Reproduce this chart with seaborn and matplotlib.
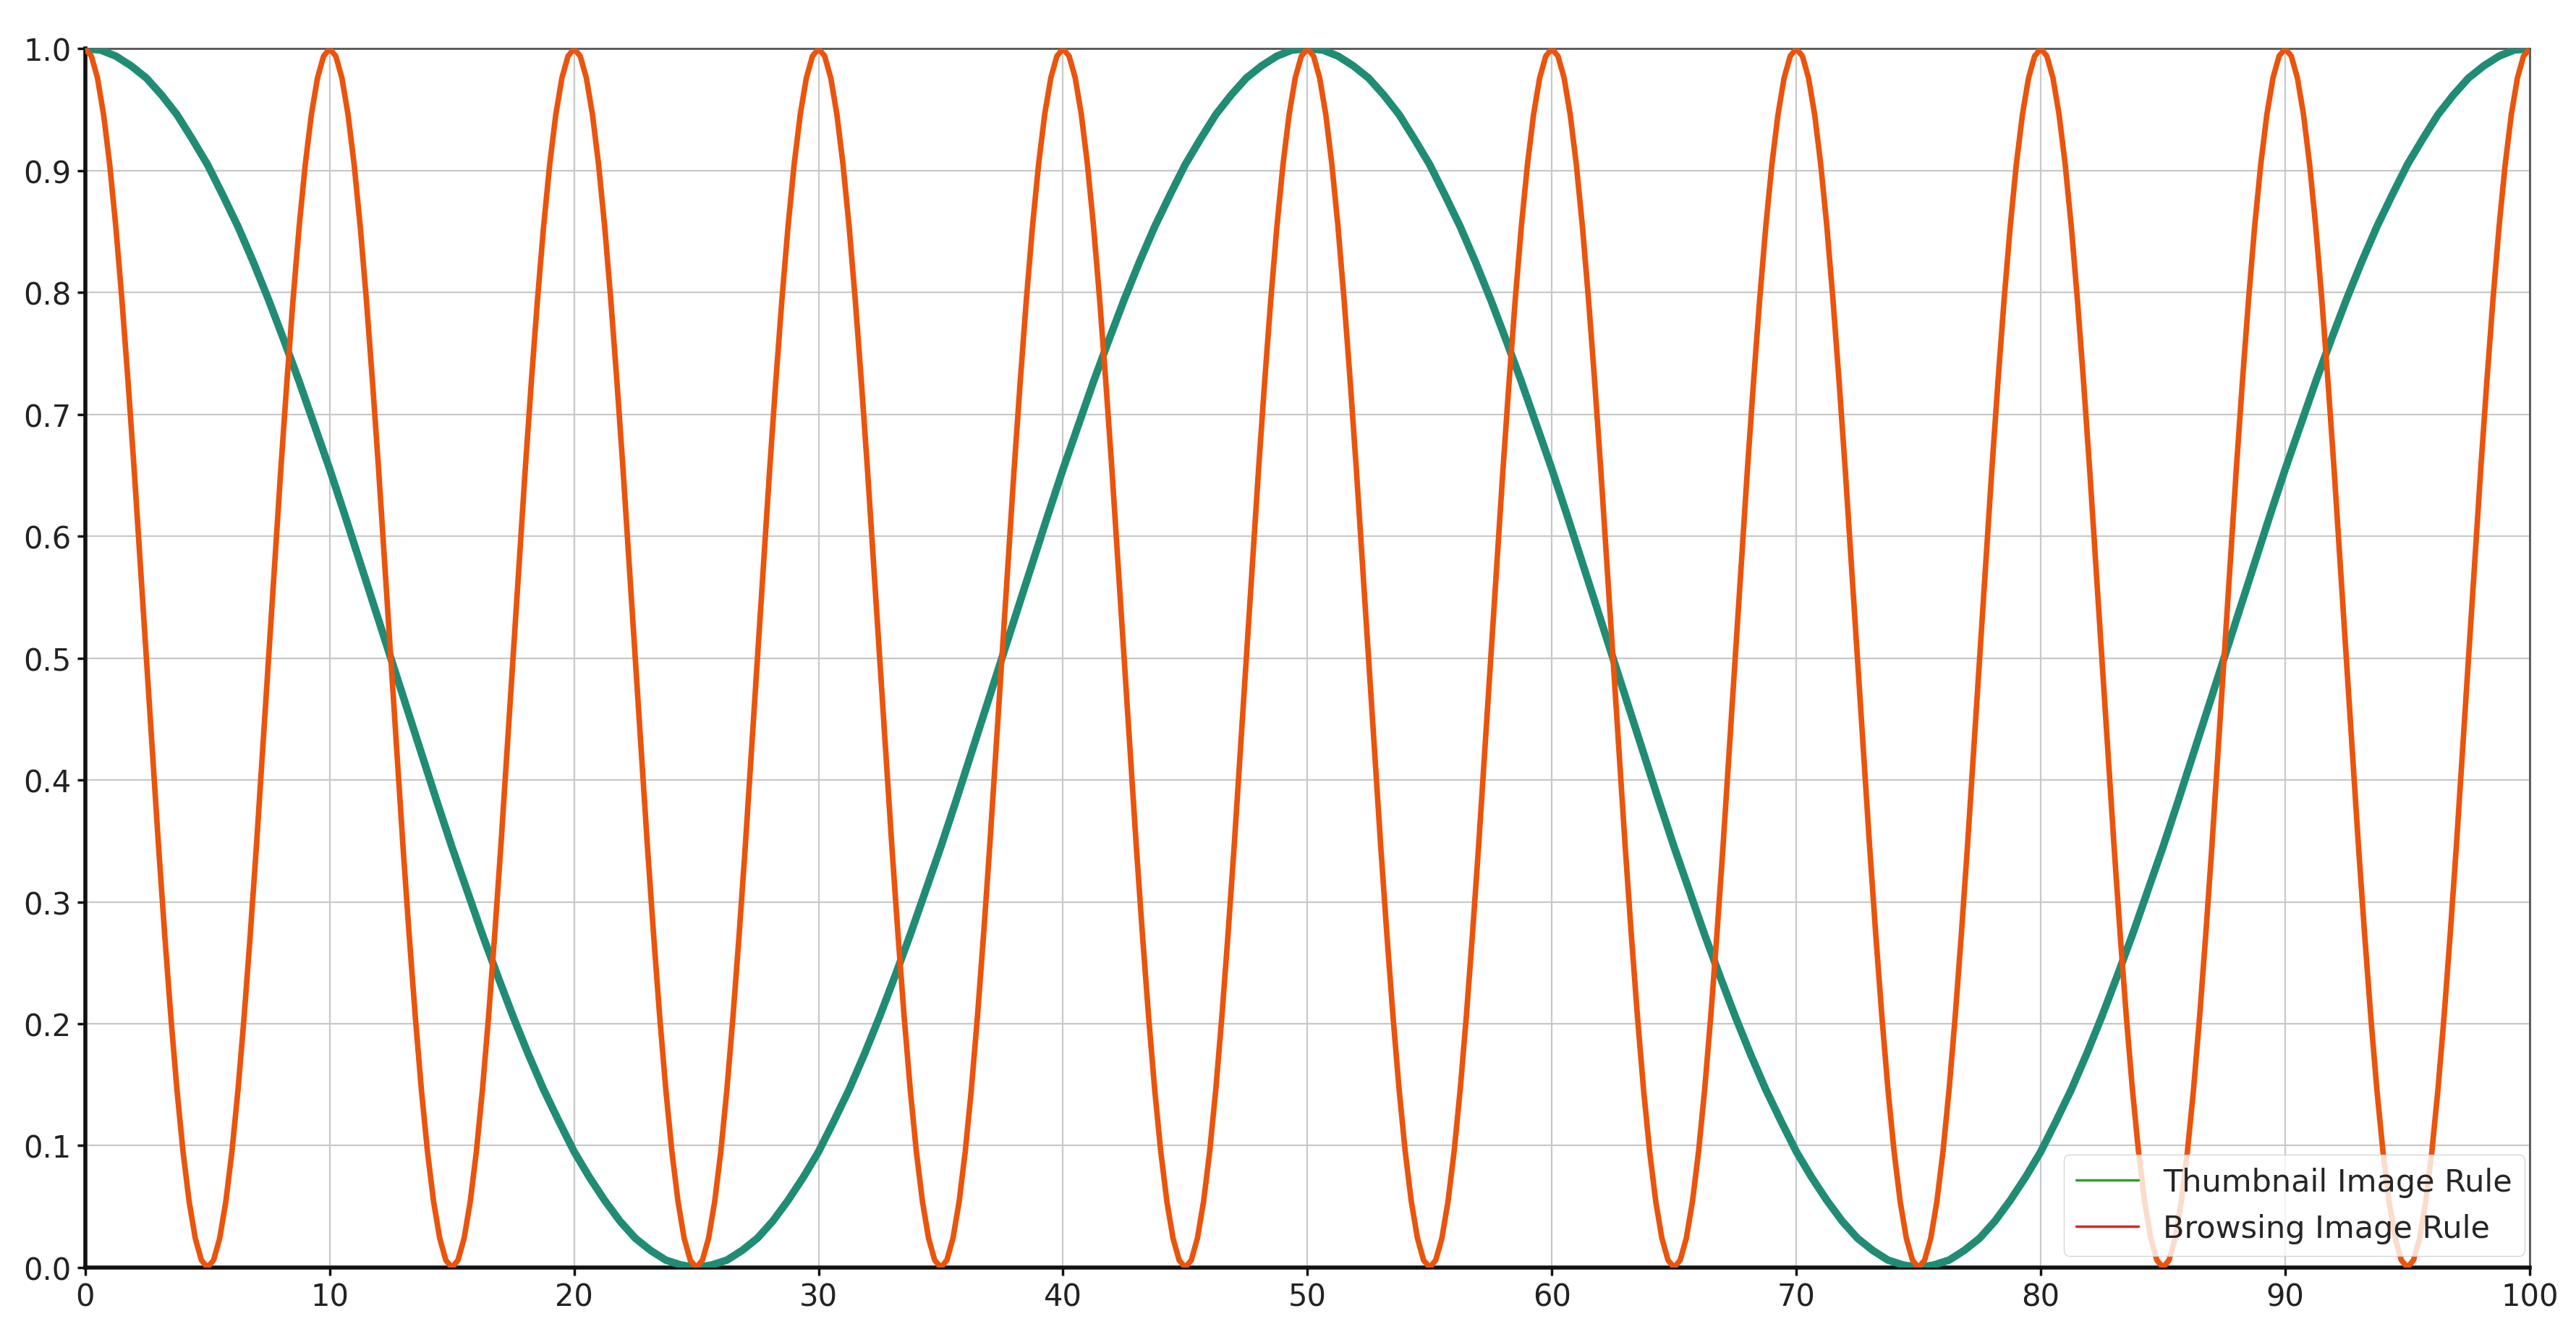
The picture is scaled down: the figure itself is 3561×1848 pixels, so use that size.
import numpy as np
import pandas as pd
import matplotlib
matplotlib.use("Agg")
import matplotlib.pyplot as plt
from matplotlib.lines import Line2D
import seaborn as sns

# ---- data ----
# Browsing Image Rule: sampled every 0.25 on x from 0 to 100
browsing_x = np.linspace(0, 100, 401)
browsing_y = [
    1.0, .994, .976, .946, .905, .854, .794, .727, .655, .578, .5, .422, .345, .273, .206, .146, .095, .054, .024, .006,
    0.0, .006, .024, .054, .095, .146, .206, .273, .345, .422, .5, .578, .655, .727, .794, .854, .905, .946, .976, .994,
    1.0, .994, .976, .946, .905, .854, .794, .727, .655, .578, .5, .422, .345, .273, .206, .146, .095, .054, .024, .006,
    0.0, .006, .024, .054, .095, .146, .206, .273, .345, .422, .5, .578, .655, .727, .794, .854, .905, .946, .976, .994,
    1.0, .994, .976, .946, .905, .854, .794, .727, .655, .578, .5, .422, .345, .273, .206, .146, .095, .054, .024, .006,
    0.0, .006, .024, .054, .095, .146, .206, .273, .345, .422, .5, .578, .655, .727, .794, .854, .905, .946, .976, .994,
    1.0, .994, .976, .946, .905, .854, .794, .727, .655, .578, .5, .422, .345, .273, .206, .146, .095, .054, .024, .006,
    0.0, .006, .024, .054, .095, .146, .206, .273, .345, .422, .5, .578, .655, .727, .794, .854, .905, .946, .976, .994,
    1.0, .994, .976, .946, .905, .854, .794, .727, .655, .578, .5, .422, .345, .273, .206, .146, .095, .054, .024, .006,
    0.0, .006, .024, .054, .095, .146, .206, .273, .345, .422, .5, .578, .655, .727, .794, .854, .905, .946, .976, .994,
    1.0, .994, .976, .946, .905, .854, .794, .727, .655, .578, .5, .422, .345, .273, .206, .146, .095, .054, .024, .006,
    0.0, .006, .024, .054, .095, .146, .206, .273, .345, .422, .5, .578, .655, .727, .794, .854, .905, .946, .976, .994,
    1.0, .994, .976, .946, .905, .854, .794, .727, .655, .578, .5, .422, .345, .273, .206, .146, .095, .054, .024, .006,
    0.0, .006, .024, .054, .095, .146, .206, .273, .345, .422, .5, .578, .655, .727, .794, .854, .905, .946, .976, .994,
    1.0, .994, .976, .946, .905, .854, .794, .727, .655, .578, .5, .422, .345, .273, .206, .146, .095, .054, .024, .006,
    0.0, .006, .024, .054, .095, .146, .206, .273, .345, .422, .5, .578, .655, .727, .794, .854, .905, .946, .976, .994,
    1.0, .994, .976, .946, .905, .854, .794, .727, .655, .578, .5, .422, .345, .273, .206, .146, .095, .054, .024, .006,
    0.0, .006, .024, .054, .095, .146, .206, .273, .345, .422, .5, .578, .655, .727, .794, .854, .905, .946, .976, .994,
    1.0, .994, .976, .946, .905, .854, .794, .727, .655, .578, .5, .422, .345, .273, .206, .146, .095, .054, .024, .006,
    0.0, .006, .024, .054, .095, .146, .206, .273, .345, .422, .5, .578, .655, .727, .794, .854, .905, .946, .976, .994,
    1.0,
]

# Thumbnail Image Rule: sampled every 0.625 on x from 0 to 100
thumbnail_x = np.linspace(0, 100, 161)
thumbnail_y = [
    1.0, .999, .994, .986, .976, .962, .946, .926, .905, .880, .854, .825, .794, .761, .727, .691, .655, .617, .578, .539,
    .5, .461, .422, .383, .345, .309, .273, .239, .206, .175, .146, .120, .095, .074, .055, .038, .024, .014, .006, .002,
    0.0, .002, .006, .014, .024, .038, .055, .074, .095, .120, .146, .175, .206, .239, .273, .309, .345, .383, .422, .461,
    .5, .539, .578, .617, .655, .691, .727, .761, .794, .825, .854, .880, .905, .926, .946, .962, .976, .986, .994, .999,
    1.0, .999, .994, .986, .976, .962, .946, .926, .905, .880, .854, .825, .794, .761, .727, .691, .655, .617, .578, .539,
    .5, .461, .422, .383, .345, .309, .273, .239, .206, .175, .146, .120, .095, .074, .055, .038, .024, .014, .006, .002,
    0.0, .002, .006, .014, .024, .038, .055, .074, .095, .120, .146, .175, .206, .239, .273, .309, .345, .383, .422, .461,
    .5, .539, .578, .617, .655, .691, .727, .761, .794, .825, .854, .880, .905, .926, .946, .962, .976, .986, .994, .999,
    1.0,
]

x_ticks = [0, 10, 20, 30, 40, 50, 60, 70, 80, 90, 100]
y_ticks = [0.0, 0.1, 0.2, 0.3, 0.4, 0.5, 0.6, 0.7, 0.8, 0.9, 1.0]
legend_labels = ["Thumbnail Image Rule", "Browsing Image Rule"]

# ---- plotting ----
sns.set_style("white")
plt.rcParams["font.family"] = ["DejaVu Sans"]

fig = plt.figure(figsize=(35.61, 18.49), dpi=100)
ax = fig.add_axes([0.0331, 0.052, 0.982 - 0.0331, 0.963 - 0.052])

df_t = pd.DataFrame({"x": thumbnail_x, "y": thumbnail_y})
df_b = pd.DataFrame({"x": browsing_x, "y": browsing_y})

sns.lineplot(data=df_t, x="x", y="y", ax=ax, color="#208c74", linewidth=7.5,
             zorder=3, solid_joinstyle="round")
sns.lineplot(data=df_b, x="x", y="y", ax=ax, color="#ea540c", linewidth=5.5,
             zorder=4, solid_joinstyle="round")

ax.set_xlim(0, 100)
ax.set_ylim(0, 1.0)
ax.set_xticks(x_ticks)
ax.set_yticks(y_ticks)
ax.set_xticklabels([str(v) for v in x_ticks])
ax.set_yticklabels([f"{v:.1f}" for v in y_ticks])
ax.set_xlabel("")
ax.set_ylabel("")

ax.grid(True, color="#c8c8c8", linewidth=1.6, zorder=0)
ax.set_axisbelow(True)

for side in ["left", "bottom"]:
    ax.spines[side].set_color("#111111")
    ax.spines[side].set_linewidth(4)
for side in ["top", "right"]:
    ax.spines[side].set_color("#555555")
    ax.spines[side].set_linewidth(2)

ax.tick_params(axis="both", which="major", labelsize=30, length=8, width=2.5,
               color="#111111", labelcolor="#222222", direction="out", pad=6,
               left=True, bottom=True)

handles = [Line2D([0], [0], color="#2ca02c", linewidth=2.5),
           Line2D([0], [0], color="#d62728", linewidth=2.5)]
leg = ax.legend(handles, legend_labels, loc="lower right", fontsize=31,
                frameon=True, framealpha=0.8, edgecolor="#cccccc",
                borderpad=0.4, handlelength=2.0, labelspacing=0.5,
                borderaxespad=0.0, bbox_to_anchor=(0.998, 0.0095))
leg.set_zorder(10)

fig.savefig("out.png", dpi=100, facecolor="white")
